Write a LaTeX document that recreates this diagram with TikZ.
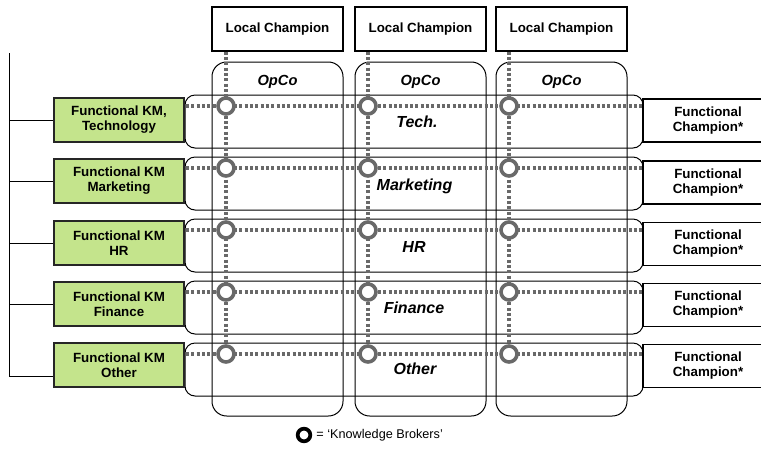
\documentclass[tikz,border=0pt]{standalone}
\usepackage{fontspec}
\setmainfont{Liberation Sans}
\definecolor{kmgreen}{RGB}{196,228,140}
\definecolor{brokergray}{RGB}{105,105,105}
\begin{document}
\begin{tikzpicture}[x=0.75pt,y=-0.75pt,
  every node/.style={font=\fontsize{10}{11.25}\selectfont\bfseries, align=center, inner sep=0pt},
  lcbox/.style={draw=black, line width=0.9pt, fill=white, minimum width={131*0.75pt}, minimum height={44*0.75pt}},
  kmbox/.style={draw=black!85, line width=0.9pt, fill=kmgreen, minimum width={130*0.75pt}, minimum height={44*0.75pt}},
  fcbox/.style={draw=black, line width=0.9pt, fill=white, minimum width={130*0.75pt}, minimum height={43*0.75pt}},
  opco/.style={draw=black, line width=0.75pt, rounded corners=11pt},
  rowband/.style={draw=black, line width=0.75pt, rounded corners=7.5pt},
  kb/.style={circle, draw=brokergray, line width=2.7pt, fill=white, minimum size=12pt},
  kblink/.style={draw=brokergray, line width=3pt, dash pattern=on 2.4pt off 1.6pt},
  colhead/.style={font=\fontsize{11}{13}\selectfont\bfseries\itshape},
  rowhead/.style={font=\fontsize{12}{14}\selectfont\bfseries\itshape},
  bracket/.style={draw=black, line width=0.75pt}
]
\useasboundingbox (0,0) rectangle (761,455);

% OpCo columns
\draw[opco] (212,62) rectangle (343,416);
\draw[opco] (355,62) rectangle (486,416);
\draw[opco] (496,62) rectangle (627,416);

% functional bands
\foreach \t in {95,157,219,281,343}
  \draw[rowband] (185,\t) rectangle (643,\t+53);

% local champions
\node[lcbox] (lc1) at (277.5,29) {Local Champion};
\node[lcbox] (lc2) at (420.5,29) {Local Champion};
\node[lcbox] (lc3) at (561.5,29) {Local Champion};

% functional KM boxes
\node[kmbox] (km1) at (119,120) {Functional KM,\\Technology};
\node[kmbox] (km2) at (119,181) {Functional KM\\Marketing};
\node[kmbox] (km3) at (119,243) {Functional KM\\HR};
\node[kmbox] (km4) at (119,304) {Functional KM\\Finance};
\node[kmbox] (km5) at (119,365) {Functional KM\\Other};

% functional champions
\foreach \r/\y in {1/120.5,2/182.5,3/244,4/305,5/366}
  \node[fcbox] (fc\r) at (708,\y) {Functional\\Champion*};

% labels
\node[colhead] (op1) at (277.5,82) {OpCo};
\node[colhead] (op2) at (420.5,82) {OpCo};
\node[colhead] (op3) at (561.5,82) {OpCo};
\node[rowhead] (rt1) at (417,122) {Tech.};
\node[rowhead] (rt2) at (414.5,186) {Marketing};
\node[rowhead] (rt3) at (414,247) {HR};
\node[rowhead] (rt4) at (414,308) {Finance};
\node[rowhead] (rt5) at (415,369) {Other};

% bracket on the left
\coordinate (bTop) at (9,53);
\coordinate (bBot) at (9,376);
\draw[bracket] (bTop) -- (bBot);
\foreach \r in {1,2,3,4}
  \draw[bracket] (km\r.west) -- (km\r.west -| bTop);
\draw[bracket] (bBot) -- (bBot -| km5.west);

% knowledge broker positions
\foreach \r/\y in {1/106,2/168,3/230,4/292,5/354}
  \foreach \c/\x in {1/226,2/368,3/509}
    \coordinate (p\r\c) at (\x,\y);

% dotted links
\foreach \r in {1,...,5}
  \draw[kblink] ([xshift=1pt]km\r.east |- p\r1) -- (fc\r.west |- p\r1);
\foreach \c in {1,2,3}
  \draw[kblink] (lc\c.south -| p1\c) -- (p5\c);

% knowledge brokers
\foreach \r in {1,...,5}
  \foreach \c in {1,2,3}
    \node[kb] (k\r\c) at (p\r\c) {};

% legend
\node[circle, draw=black, line width=2.8pt, fill=white, minimum size=9.5pt] (legkb) at (304,435) {};
\node[anchor=west, font=\fontsize{9.5}{11}\selectfont] (legtxt) at ([xshift=3pt]legkb.east) {= ‘Knowledge Brokers’};
\end{tikzpicture}
\end{document}
